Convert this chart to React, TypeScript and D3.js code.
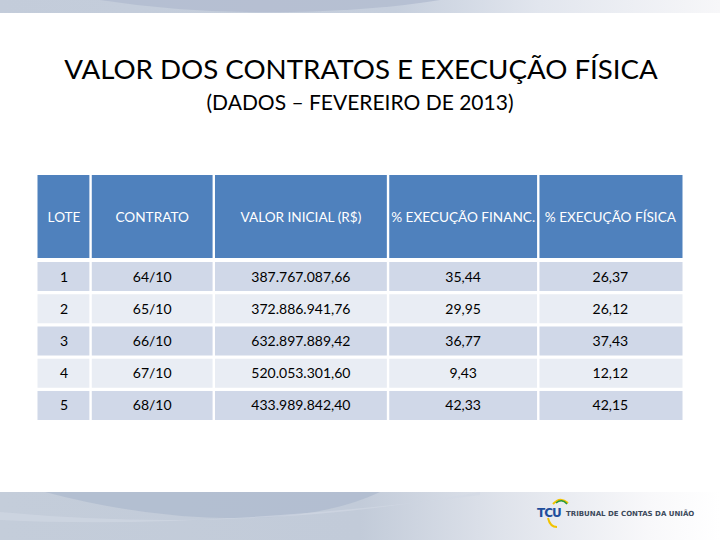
import React from "react";
import * as d3 from "d3";

const columns = ["LOTE", "CONTRATO", "VALOR INICIAL (R$)", "% EXECUÇÃO FINANC.", "% EXECUÇÃO FÍSICA"];
const lotes = ["1", "2", "3", "4", "5"];
const contratos = ["64/10", "65/10", "66/10", "67/10", "68/10"];
const valores = ["387.767.087,66", "372.886.941,76", "632.897.889,42", "520.053.301,60", "433.989.842,40"];
const execFin = ["35,44", "29,95", "36,77", "9,43", "42,33"];
const execFis = ["26,37", "26,12", "37,43", "12,12", "42,15"];
const colWidths = [53, 123, 174, 150, 144];

const W = 720, H = 540;
const FONT = "Lato, 'Open Sans', sans-serif";

export default function App() {
  const edges = [0];
  colWidths.forEach((w) => edges.push(edges[edges.length - 1] + w));
  const x = d3.scaleLinear().domain([0, edges[edges.length - 1]]).range([37.5, 682.5]);
  const y = d3.scaleBand().domain(lotes).range([262, 420]).paddingInner(0.1);
  const rows = lotes.map((l, i) => [l, contratos[i], valores[i], execFin[i], execFis[i]]);
  const gap = 1.2;

  return (
    <svg width={W} height={H} style={{ position: "absolute", left: 0, top: 0, background: "#fff" }}>
      <defs>
        <linearGradient id="topg" x1="0" x2="1" y1="0" y2="0">
          <stop offset="0" stopColor="#c3ccda" />
          <stop offset="0.55" stopColor="#c6cfdd" />
          <stop offset="0.75" stopColor="#e2e6ee" />
          <stop offset="1" stopColor="#f7f7f9" />
        </linearGradient>
        <linearGradient id="botg" x1="0" x2="1" y1="0" y2="0">
          <stop offset="0" stopColor="#c4cdda" />
          <stop offset="0.5" stopColor="#c2cbd9" />
          <stop offset="0.7" stopColor="#dfe3eb" />
          <stop offset="0.9" stopColor="#f8f8fa" />
          <stop offset="1" stopColor="#ffffff" />
        </linearGradient>
      </defs>
      <rect x={0} y={0} width={W} height={H} fill="#fff" />
      {/* top band */}
      <rect x={0} y={0} width={W} height={13} fill="url(#topg)" />
      <path d="M100,0 Q190,14 290,12 Q380,10 440,0 Z" fill="#b1bccf" opacity={0.8} />
      {/* bottom band */}
      <rect x={0} y={492} width={W} height={48} fill="url(#botg)" />
      <path d="M45,492 Q150,520 250,518 Q330,516 380,492 Z" fill="#b0bccf" opacity={0.85} />
      <path d="M0,520 Q200,530 480,495 L480,492 Q250,535 0,512 Z" fill="#d2d9e4" opacity={0.6} />

      {/* title */}
      <text x={361} y={79} textAnchor="middle" fontFamily={FONT} fontSize={27.7} fill="#000">
        VALOR DOS CONTRATOS E EXECUÇÃO FÍSICA
      </text>
      <text x={360} y={110} textAnchor="middle" fontFamily={FONT} fontSize={21} fill="#000">
        (DADOS – FEVEREIRO DE 2013)
      </text>

      {/* header */}
      {columns.map((c, j) => (
        <g key={c}>
          <rect x={x(edges[j]) + (j > 0 ? gap : 0)} y={175} width={x(edges[j + 1]) - x(edges[j]) - (j > 0 ? gap : 0) - (j < columns.length - 1 ? gap : 0)} height={83} fill="#4f81bd" />
          <text x={(x(edges[j]) + x(edges[j + 1])) / 2} y={222} textAnchor="middle" fontFamily={FONT} fontSize={13.6} fill="#fff">
            {c}
          </text>
        </g>
      ))}

      {/* rows */}
      {rows.map((r, i) => (
        <g key={lotes[i]}>
          {r.map((v, j) => (
            <g key={j}>
              <rect x={x(edges[j]) + (j > 0 ? gap : 0)} y={y(lotes[i])!} width={x(edges[j + 1]) - x(edges[j]) - (j > 0 ? gap : 0) - (j < columns.length - 1 ? gap : 0)} height={y.bandwidth()} fill={i % 2 === 0 ? "#d0d8e8" : "#e9edf4"} />
              <text x={(x(edges[j]) + x(edges[j + 1])) / 2} y={y(lotes[i])! + y.bandwidth() / 2 + 5} textAnchor="middle" fontFamily={FONT} fontSize={14} fill="#000">
                {v}
              </text>
            </g>
          ))}
        </g>
      ))}

      {/* logo */}
      <g>
        <path d="M553,504 Q560,496 568,503" stroke="#f2c300" strokeWidth={2} fill="none" />
        <path d="M556,503 Q562,498 567,504" stroke="#2a9a3c" strokeWidth={1.5} fill="none" />
        <text x={537} y={517} fontFamily="'DejaVu Sans', sans-serif" fontWeight="bold" fontSize={12} fill="#1f4e9c" letterSpacing={-1}>TCU</text>
        <path d="M548,518 Q550,527 557,527" stroke="#f2c300" strokeWidth={2} fill="none" />
        <text x={566} y={516} fontFamily="'DejaVu Sans', sans-serif" fontWeight="bold" fontSize={7} fill="#3d4a5c">
          TRIBUNAL DE CONTAS DA UNIÃO
        </text>
      </g>
    </svg>
  );
}
